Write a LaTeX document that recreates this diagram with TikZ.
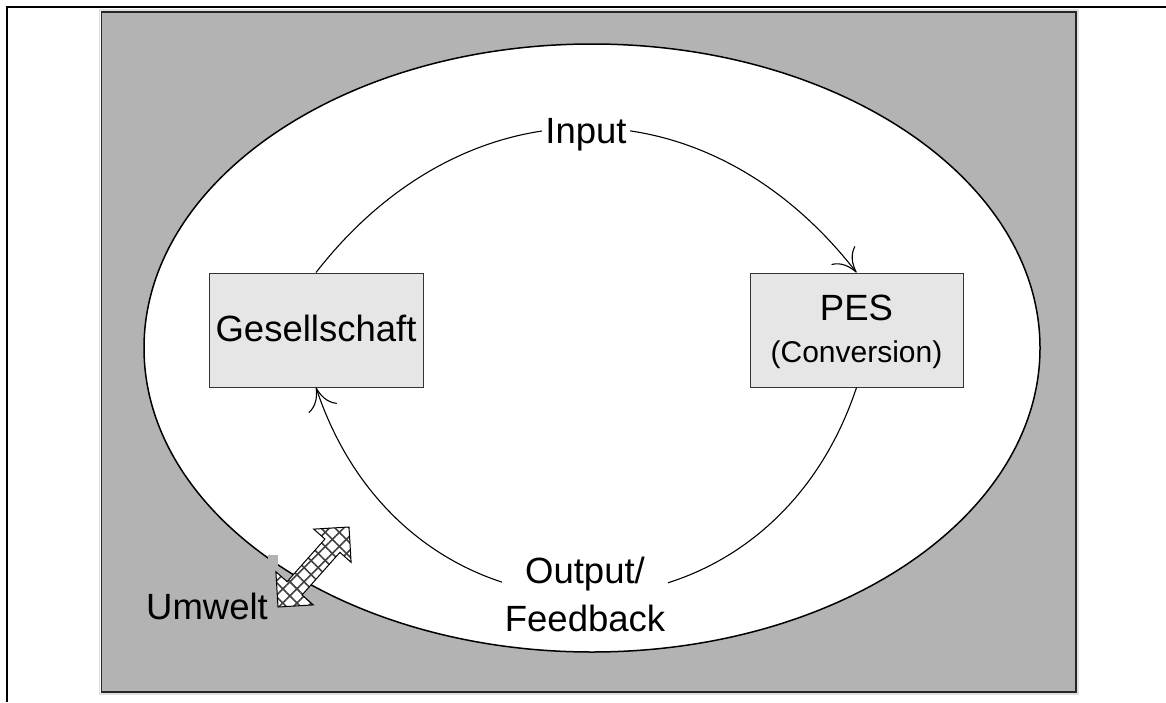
\documentclass[tikz,border=0pt]{standalone}
\usepackage{fontspec}
\setmainfont{Liberation Sans}
\usetikzlibrary{arrows.meta,calc,patterns.meta}

\definecolor{envgray}{HTML}{B3B3B3}
\definecolor{boxgray}{HTML}{E6E6E6}

\begin{document}
\begin{tikzpicture}[x=1pt,y=-1pt,
  sysbox/.style={draw=black!80, line width=1pt, fill=boxgray,
    minimum width=214pt, minimum height=114pt, inner sep=0pt},
  flow/.style={line width=1.1pt, -{To[length=22pt,width=30pt]}},
  lbl/.style={font=\fontsize{36.5}{48}\selectfont, inner sep=0pt},
  small/.style={font=\fontsize{30}{36}\selectfont, inner sep=0pt},
  hatch/.style={pattern={Lines[angle=#1,distance=10pt,line width=1.6pt]},
    pattern color=black!75}]

  \useasboundingbox (0,0) rectangle (1166,702);

  % page frame
  \draw[line width=2.5pt] (7,702) -- (7,7) -- (1166,7);

  % environment
  \draw[black!12, line width=1.5pt] (99.5,10) rectangle (1078,694);
  \draw[black!85, line width=1.5pt, fill=envgray] (101.5,12) rectangle (1076,692);

  % system boundary
  \draw[line width=1.5pt, fill=white] (592,348) ellipse [x radius=448, y radius=304];
  \fill[envgray] (268,555) rectangle (278,574);

  % blocks
  \node[sysbox] (ges) at (316,330) {};
  \node[sysbox, minimum width=213pt] (pes) at (856.5,330) {};
  \node[lbl, anchor=base] (gestext) at (316,341) {Gesellschaft};
  \node[lbl, anchor=base] (pestext) at (856.5,320) {PES};
  \node[small, anchor=base] (conv) at (856.5,362) {(Conversion)};

  % flows
  \draw[flow] (ges.north) .. controls +(150,-193) and +(-150,-193) .. (pes.north);
  \draw[flow] (pes.south) .. controls +(-92,277) and +(92,277) .. (ges.south);

  \node[lbl, fill=white, inner xsep=3pt, inner ysep=2pt, anchor=base] (input) at (586,143) {Input};
  \node[lbl, fill=white, inner xsep=3pt, inner ysep=0pt, align=center, anchor=north] (output) at (585,557) {Output/\\Feedback};

  % exchange with the environment
  \node[lbl, anchor=base] (env) at (207,619) {Umwelt};
  \coordinate (ua) at (278,607);
  \coordinate (ub) at (349,527);
  \path ($(ua)!25pt!(ub)$) coordinate (ha) ($(ub)!25pt!(ua)$) coordinate (hb);
  \path[fill=white, postaction={hatch=45}, postaction={hatch=-45},
        postaction={draw=black, line width=1pt}]
    (ub) -- ($(hb)!25pt!90:(ua)$) -- ($(hb)!10pt!90:(ua)$)
    -- ($(ha)!10pt!-90:(ub)$) -- ($(ha)!25pt!-90:(ub)$) -- (ua)
    -- ($(ha)!25pt!90:(ub)$) -- ($(ha)!10pt!90:(ub)$)
    -- ($(hb)!10pt!-90:(ua)$) -- ($(hb)!25pt!-90:(ua)$) -- cycle;
\end{tikzpicture}
\end{document}
